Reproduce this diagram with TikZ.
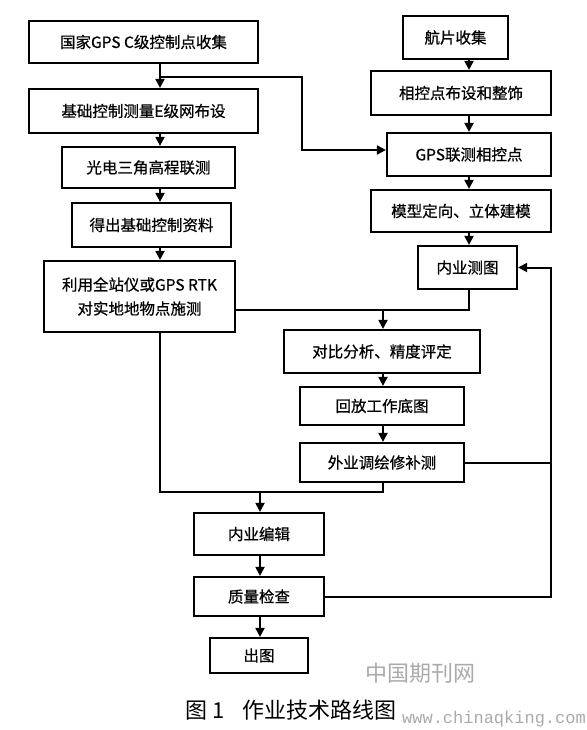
\documentclass[tikz,border=0pt]{standalone}
\usepackage{fontspec}
\usepackage{tikz}
\usetikzlibrary{arrows.meta,positioning,calc}
\newfontfamily\cjk{Noto Sans CJK SC}
\newfontfamily\cjkbox[FakeBold=0.6]{Noto Sans CJK SC}
\newfontfamily\wmono{Liberation Mono}
\definecolor{wmgray}{RGB}{170,170,170}
\tikzset{
  flowbox/.style={rectangle, draw=black, line width=2.2pt, fill=white,
                  inner sep=2pt, align=center,
                  font=\cjkbox\fontsize{15.5}{24}\selectfont},
  fline/.style ={line width=2pt, black},
  farrow/.style={fline, -{Triangle[length=9pt,width=9pt]}},
  caption/.style={font=\cjk\fontsize{22}{26}\selectfont},
  wmark/.style={wmgray, inner sep=0pt},
}
\begin{document}
\begin{tikzpicture}[x=1pt, y=-1pt]
  \useasboundingbox (0,0) rectangle (586,730);
  % left column
  \node[flowbox, minimum width=229, minimum height=42] (gpsc)  at (143.5,42)  {国家GPS C级控制点收集};
  \node[flowbox, minimum width=229, minimum height=44] (enet)  at (143.5,111) {基础控制测量E级网布设};
  \node[flowbox, minimum width=173, minimum height=41] (trig)  at (148.5,167.5) {光电三角高程联测};
  \node[flowbox, minimum width=159, minimum height=44] (basic) at (151.5,225) {得出基础控制资料};
  \node[flowbox, minimum width=191, minimum height=71] (rtk)   at (139.5,296.5) {利用全站仪或GPS RTK\\对实地地物点施测};
  % right column
  \node[flowbox, minimum width=105, minimum height=43] (photo) at (455.5,37.5) {航片收集};
  \node[flowbox, minimum width=180, minimum height=44] (layout) at (461,93) {相控点布设和整饰};
  \node[flowbox, minimum width=164, minimum height=43] (gpsp)  at (469,154.5) {GPS联测相控点};
  \node[flowbox, minimum width=180, minimum height=42] (model) at (461,211) {模型定向、立体建模};
  \node[flowbox, minimum width=99,  minimum height=43] (indraw) at (467.5,267.5) {内业测图};
  % middle column
  \node[flowbox, minimum width=196, minimum height=43] (compare) at (382,351.5) {对比分析、精度评定};
  \node[flowbox, minimum width=164, minimum height=38] (replay)  at (382,406) {回放工作底图};
  \node[flowbox, minimum width=164, minimum height=39] (field)   at (382,462.5) {外业调绘修补测};
  % bottom column
  \node[flowbox, minimum width=130, minimum height=42] (edit)  at (259,534) {内业编辑};
  \node[flowbox, minimum width=130, minimum height=39] (check) at (259,596.5) {质量检查};
  \node[flowbox, minimum width=98,  minimum height=35] (out)   at (259,655.5) {出图};

  \coordinate (colL) at (160,0);
  \coordinate (colR) at (469,0);
  \coordinate (colE) at (551,0);
  \coordinate (jA) at (160,77);
  \coordinate (kA) at (302,150);
  \coordinate (jB) at (383,310);
  \coordinate (jC) at (260,492);

  \draw[farrow] (gpsc.south -| colL)  -- (enet.north -| colL);
  \draw[farrow] (enet.south -| colL)  -- (trig.north -| colL);
  \draw[farrow] (trig.south -| colL)  -- (basic.north -| colL);
  \draw[farrow] (basic.south -| colL) -- (rtk.north -| colL);
  \draw[farrow] (jA) -| (kA) -- (gpsp.west |- kA);

  \draw[farrow] (photo.south -| colR)  -- (layout.north -| colR);
  \draw[farrow] (layout.south -| colR) -- (gpsp.north -| colR);
  \draw[farrow] (gpsp.south -| colR)   -- (model.north -| colR);
  \draw[farrow] (model.south -| colR)  -- (indraw.north -| colR);

  \draw[fline] (indraw.south -| colR) |- (rtk.east |- jB);
  \draw[farrow] (jB) -- (compare.north -| jB);
  \draw[farrow] (compare.south -| jB) -- (replay.north -| jB);
  \draw[farrow] (replay.south -| jB)  -- (field.north -| jB);

  \draw[fline] (rtk.south -| colL) |- (jC) -| (field.south -| jB);
  \draw[farrow] (jC) -- (edit.north -| jC);
  \draw[farrow] (edit.south -| jC)  -- (check.north -| jC);
  \draw[farrow] (check.south -| jC) -- (out.north -| jC);

  \draw[fline] (field.east) -- (field.east -| colE);
  \draw[farrow] (check.east) -| (colE |- indraw.east) -- (indraw.east);

  % caption and watermarks
  \node[caption] (cap) at (291,710) {图 1\hspace{0.8em}作业技术路线图};
  \node[wmark, font=\cjk\fontsize{22}{26}\selectfont] (wmcn) at (420,673) {中国期刊网};
  \node[wmark, font=\wmono\fontsize{17}{20}\selectfont, anchor=east] (wmurl) at (586,719) {www.chinaqking.com};
\end{tikzpicture}
\end{document}
